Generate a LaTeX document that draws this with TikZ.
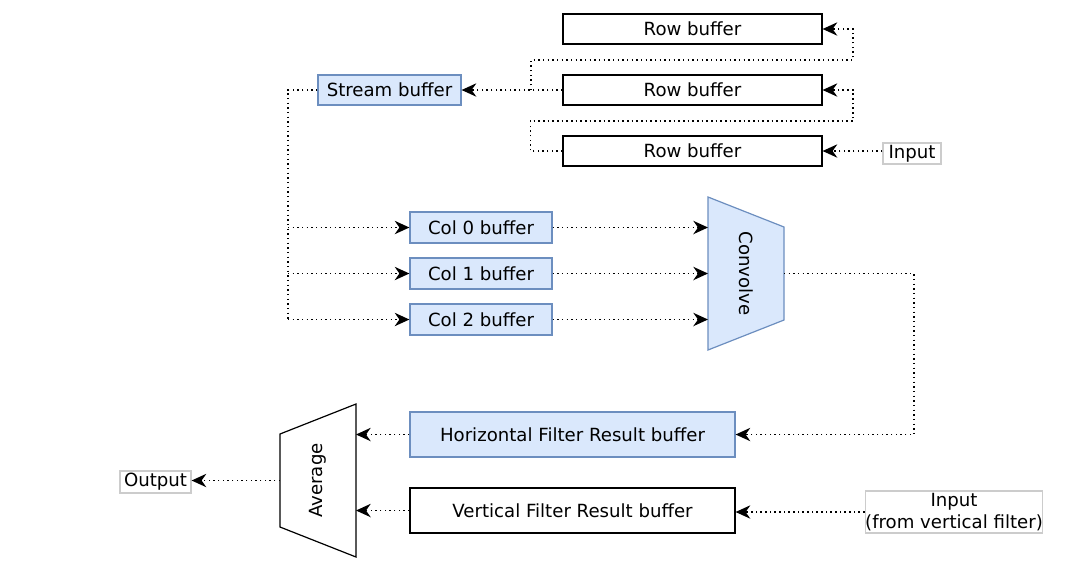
\documentclass[tikz,border=0pt]{standalone}
\usepackage{fontspec}
\setmainfont{DejaVu Sans}
\usepackage{xcolor}
\usetikzlibrary{arrows.meta}
\definecolor{bufblue}{HTML}{DAE8FC}
\definecolor{bufedge}{HTML}{6C8EBF}
\definecolor{termedge}{HTML}{CCCCCC}
\tikzset{
  txt/.style={font=\fontsize{13.6}{16}\selectfont, inner sep=0pt},
  rowbox/.style={txt, draw=black, line width=0.9pt, fill=white, minimum width=194.25pt, minimum height=22.5pt},
  bluebox/.style={txt, draw=bufedge, line width=0.9pt, fill=bufblue},
  colbox/.style={bluebox, minimum width=106.5pt, minimum height=23.25pt},
  resbox/.style={txt, line width=0.9pt, minimum width=243.75pt, minimum height=33.75pt},
  term/.style={txt, draw=termedge, line width=0.9pt, fill=white, align=center},
  dotline/.style={line width=1.1pt, dash pattern=on 1.1pt off 2.4pt},
  link/.style={dotline, -{Stealth[length=11pt, width=10pt, inset=3.5pt]}}
}
\begin{document}
\begin{tikzpicture}[x=0.75pt, y=-0.75pt]
  \useasboundingbox (0,0) rectangle (1087,576);

  % row buffers and stream buffer
  \node[rowbox] (row1) at (692.5,29) {Row buffer};
  \node[rowbox] (row2) at (692.5,90) {Row buffer};
  \node[rowbox] (row3) at (692.5,151) {Row buffer};
  \node[bluebox, minimum width=107.25pt, minimum height=22.5pt] (stream) at (389.5,90) {Stream buffer};
  \node[term, minimum width=43.5pt, minimum height=15.75pt] (in1) at (912,153.5) {Input};

  % column buffers
  \node[colbox] (col0) at (481,227.5) {Col 0 buffer};
  \node[colbox] (col1) at (481,273.5) {Col 1 buffer};
  \node[colbox] (col2) at (481,319.5) {Col 2 buffer};

  % convolve
  \draw[draw=bufedge, fill=bufblue, line width=0.9pt] (708,197) -- (784,227) -- (784,320) -- (708,350) -- cycle;
  \node[txt, rotate=-90] (conv) at (746,273.5) {Convolve};
  \coordinate (convL) at (708,273.5);
  \coordinate (convR) at (784,273.5);

  % result buffers
  \node[resbox, bluebox] (hbuf) at (572.5,434.5) {Horizontal Filter Result buffer};
  \node[resbox, draw=black, fill=white] (vbuf) at (572.5,510.5) {Vertical Filter Result buffer};
  \node[term, minimum width=126pt, minimum height=31.5pt] (in2) at (954,512) {Input\\(from vertical filter)};

  % average
  \draw[line width=0.9pt, fill=white] (356,404) -- (356,557) -- (280,527) -- (280,434) -- cycle;
  \node[txt, rotate=90] (avg) at (318,480.5) {Average};
  \coordinate (avgL) at (280,480.5);
  \coordinate (avgR) at (356,480.5);
  \node[term, minimum width=53.25pt, minimum height=16.5pt] (out) at (155.5,482) {Output};

  % connectors
  \draw[link] (row3.east -| in1.west) -- (row3.east);
  \draw[link] (row3.west) -- ++(-32,0) |- (853,121) |- (row2.east);
  \draw[link] (row2.west) -- (stream.east);
  \coordinate (split) at (531,90);
  \draw[link] (split) |- (853,60) |- (row1.east);
  \coordinate (tap) at (288,90);
  \draw[dotline] (stream.west) -- (tap) -- (tap |- col2.west);
  \foreach \c in {col0,col1,col2} {
    \draw[link] (tap |- \c.west) -- (\c.west);
    \draw[link] (\c.east) -- (\c.east -| convL);
  }
  \draw[link] (convR) -- (914,273.5) |- (hbuf.east);
  \draw[link] (hbuf.west) -- (hbuf.west -| avgR);
  \draw[link] (vbuf.west) -- (vbuf.west -| avgR);
  \draw[link] (in2.west) -- (in2.west -| vbuf.east);
  \draw[link] (avgL) -- (avgL -| out.east);
\end{tikzpicture}
\end{document}
